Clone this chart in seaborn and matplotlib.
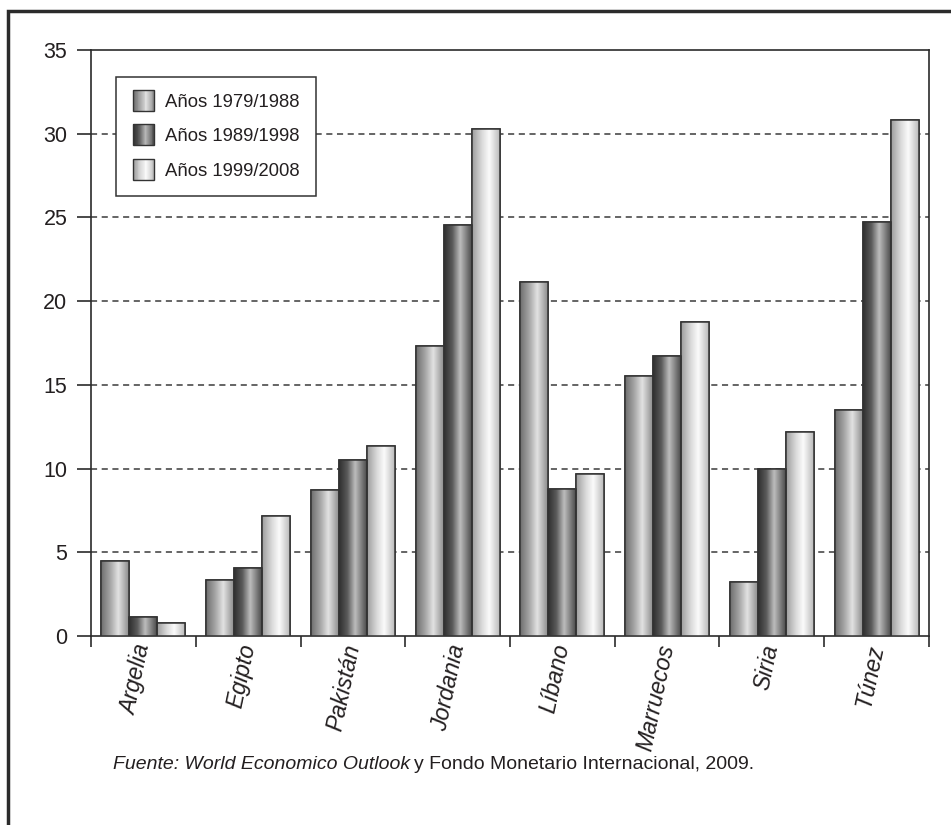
import numpy as np
import pandas as pd
import matplotlib
matplotlib.use("Agg")
import matplotlib.pyplot as plt
import seaborn as sns
from matplotlib.colors import LinearSegmentedColormap
from matplotlib.patches import Rectangle
from matplotlib.legend_handler import HandlerBase

# --- data -----------------------------------------------------------------
paises = ["Argelia", "Egipto", "Pakistán", "Jordania", "Líbano",
          "Marruecos", "Siria", "Túnez"]
periodos = ["Años 1979/1988", "Años 1989/1998", "Años 1999/2008"]
v_1979_1988 = [4.45, 3.35, 8.7, 17.3, 21.15, 15.5, 3.25, 13.5]
v_1989_1998 = [1.15, 4.05, 10.5, 24.55, 8.8, 16.7, 10.0, 24.7]
v_1999_2008 = [0.8, 7.15, 11.35, 30.3, 9.65, 18.75, 12.2, 30.8]
y_ticks = [0, 5, 10, 15, 20, 25, 30, 35]

df = pd.DataFrame({
    "pais": paises * 3,
    "periodo": np.repeat(periodos, len(paises)),
    "valor": v_1979_1988 + v_1989_1998 + v_1999_2008,
})

# --- style ----------------------------------------------------------------
sns.set_theme(style="white")
plt.rcParams["font.family"] = ["Liberation Sans", "DejaVu Sans"]
TXT = "#231f20"

# cylinder-like shading for each series (left edge -> highlight -> right edge)
shade_profiles = [
    [(0.0, "#6d6d6d"), (0.35, "#a9a9a9"), (0.62, "#e2e2e2"), (1.0, "#8c8c8c")],
    [(0.0, "#2f2f2f"), (0.30, "#5a5a5a"), (0.58, "#bdbdbd"), (1.0, "#4a4a4a")],
    [(0.0, "#9c9c9c"), (0.35, "#d9d9d9"), (0.62, "#fbfbfb"), (1.0, "#b9b9b9")],
]
cmaps = [LinearSegmentedColormap.from_list(f"cyl{i}", p) for i, p in enumerate(shade_profiles)]
mid_colors = [cm(0.5) for cm in cmaps]

fig = plt.figure(figsize=(9.51, 8.25), dpi=100)
ax = fig.add_axes([91 / 951, 1 - 636 / 825, (929 - 91) / 951, (636 - 50) / 825])

sns.barplot(data=df, x="pais", y="valor", hue="periodo", hue_order=periodos,
            order=paises, palette=mid_colors, width=0.8, gap=0,
            edgecolor="#333333", linewidth=1.1, legend=False, ax=ax,
            errorbar=None, zorder=3)

# gradient fill clipped to each bar
grad = np.linspace(0, 1, 256).reshape(1, -1)
for cont, cm in zip(ax.containers, cmaps):
    for bar in cont:
        x0, y0 = bar.get_x(), bar.get_y()
        w, h = bar.get_width(), bar.get_height()
        im = ax.imshow(grad, cmap=cm, aspect="auto",
                       extent=(x0, x0 + w, y0, y0 + h), zorder=3.5,
                       interpolation="bilinear")
        im.set_clip_path(bar)
        edge = Rectangle((x0, y0), w, h, facecolor="none",
                         edgecolor="#333333", linewidth=1.1, zorder=4)
        ax.add_patch(edge)

ax.set_xlim(-0.5, len(paises) - 0.5)
ax.set_ylim(0, 35)
ax.set_yticks(y_ticks)
ax.set_yticklabels([str(t) for t in y_ticks], fontsize=15.5, color=TXT)
ax.set_xlabel("")
ax.set_ylabel("")

# dashed horizontal gridlines
for t in y_ticks[1:-1]:
    ax.axhline(t, color="#3a3a3a", linestyle=(0, (4, 3)), linewidth=1.1, zorder=1)

for s in ax.spines.values():
    s.set_color("#2b2b2b")
    s.set_linewidth(1.2)

ax.tick_params(axis="y", direction="out", length=10, width=1.2,
               color="#2b2b2b", pad=7, left=True)
# x ticks sit between categories
ax.set_xticks(np.arange(len(paises)))
ax.set_xticklabels(paises, rotation=78, ha="right", va="center",
                   rotation_mode="anchor", fontsize=16.5, fontstyle="italic",
                   color=TXT)
ax.tick_params(axis="x", which="major", length=0, pad=6)
ax.set_xticks(np.arange(len(paises) + 1) - 0.5, minor=True)
ax.tick_params(axis="x", which="minor", direction="out", length=8, width=1.2,
               color="#2b2b2b", bottom=True)

# legend with shaded swatches
class GradientHandler(HandlerBase):
    def __init__(self, cmap):
        super().__init__()
        self.cmap = cmap

    def create_artists(self, legend, orig_handle, xdescent, ydescent,
                       width, height, fontsize, trans):
        n = 24
        arts = []
        side = height * 1.62
        x0 = -xdescent + (width - side) / 2
        y0 = -ydescent - (side - height) / 2
        for i in range(n):
            r = Rectangle((x0 + side * i / n, y0), side / n + 0.3, side,
                          facecolor=self.cmap((i + 0.5) / n), edgecolor="none",
                          transform=trans)
            arts.append(r)
        arts.append(Rectangle((x0, y0), side, side, facecolor="none",
                              edgecolor="#333333", linewidth=1.0, transform=trans))
        return arts

handles = [Rectangle((0, 0), 1, 1) for _ in periodos]
leg = ax.legend(handles, periodos,
                handler_map={h: GradientHandler(cm) for h, cm in zip(handles, cmaps)},
                loc="upper left", bbox_to_anchor=(25 / 838, (636 - 77) / 586),
                fontsize=13.3, frameon=True, fancybox=False, edgecolor="#333333",
                framealpha=1, borderpad=0.9, labelspacing=0.95,
                handlelength=1.2, handletextpad=0.55, borderaxespad=0)
leg.get_frame().set_linewidth(1.1)
for t in leg.get_texts():
    t.set_color(TXT)

# outer frame
fig.patches.append(Rectangle((8 / 951, -0.05), 1.1, 1 - 11 / 825 + 0.05,
                             transform=fig.transFigure, facecolor="none",
                             edgecolor="#2b2b2b", linewidth=2.5))

# source line: italic part followed by upright part
fig.canvas.draw()
r = fig.canvas.get_renderer()
t1 = fig.text(113 / 951, 1 - 769 / 825, "Fuente: World Economico Outlook",
              fontsize=14, fontstyle="italic", color=TXT, va="baseline")
bb = t1.get_window_extent(renderer=r)
fig.text((bb.x1 + 4) / 951, 1 - 769 / 825,
         "y Fondo Monetario Internacional, 2009.", fontsize=14, color=TXT,
         va="baseline")

fig.savefig("out.png", dpi=100)
